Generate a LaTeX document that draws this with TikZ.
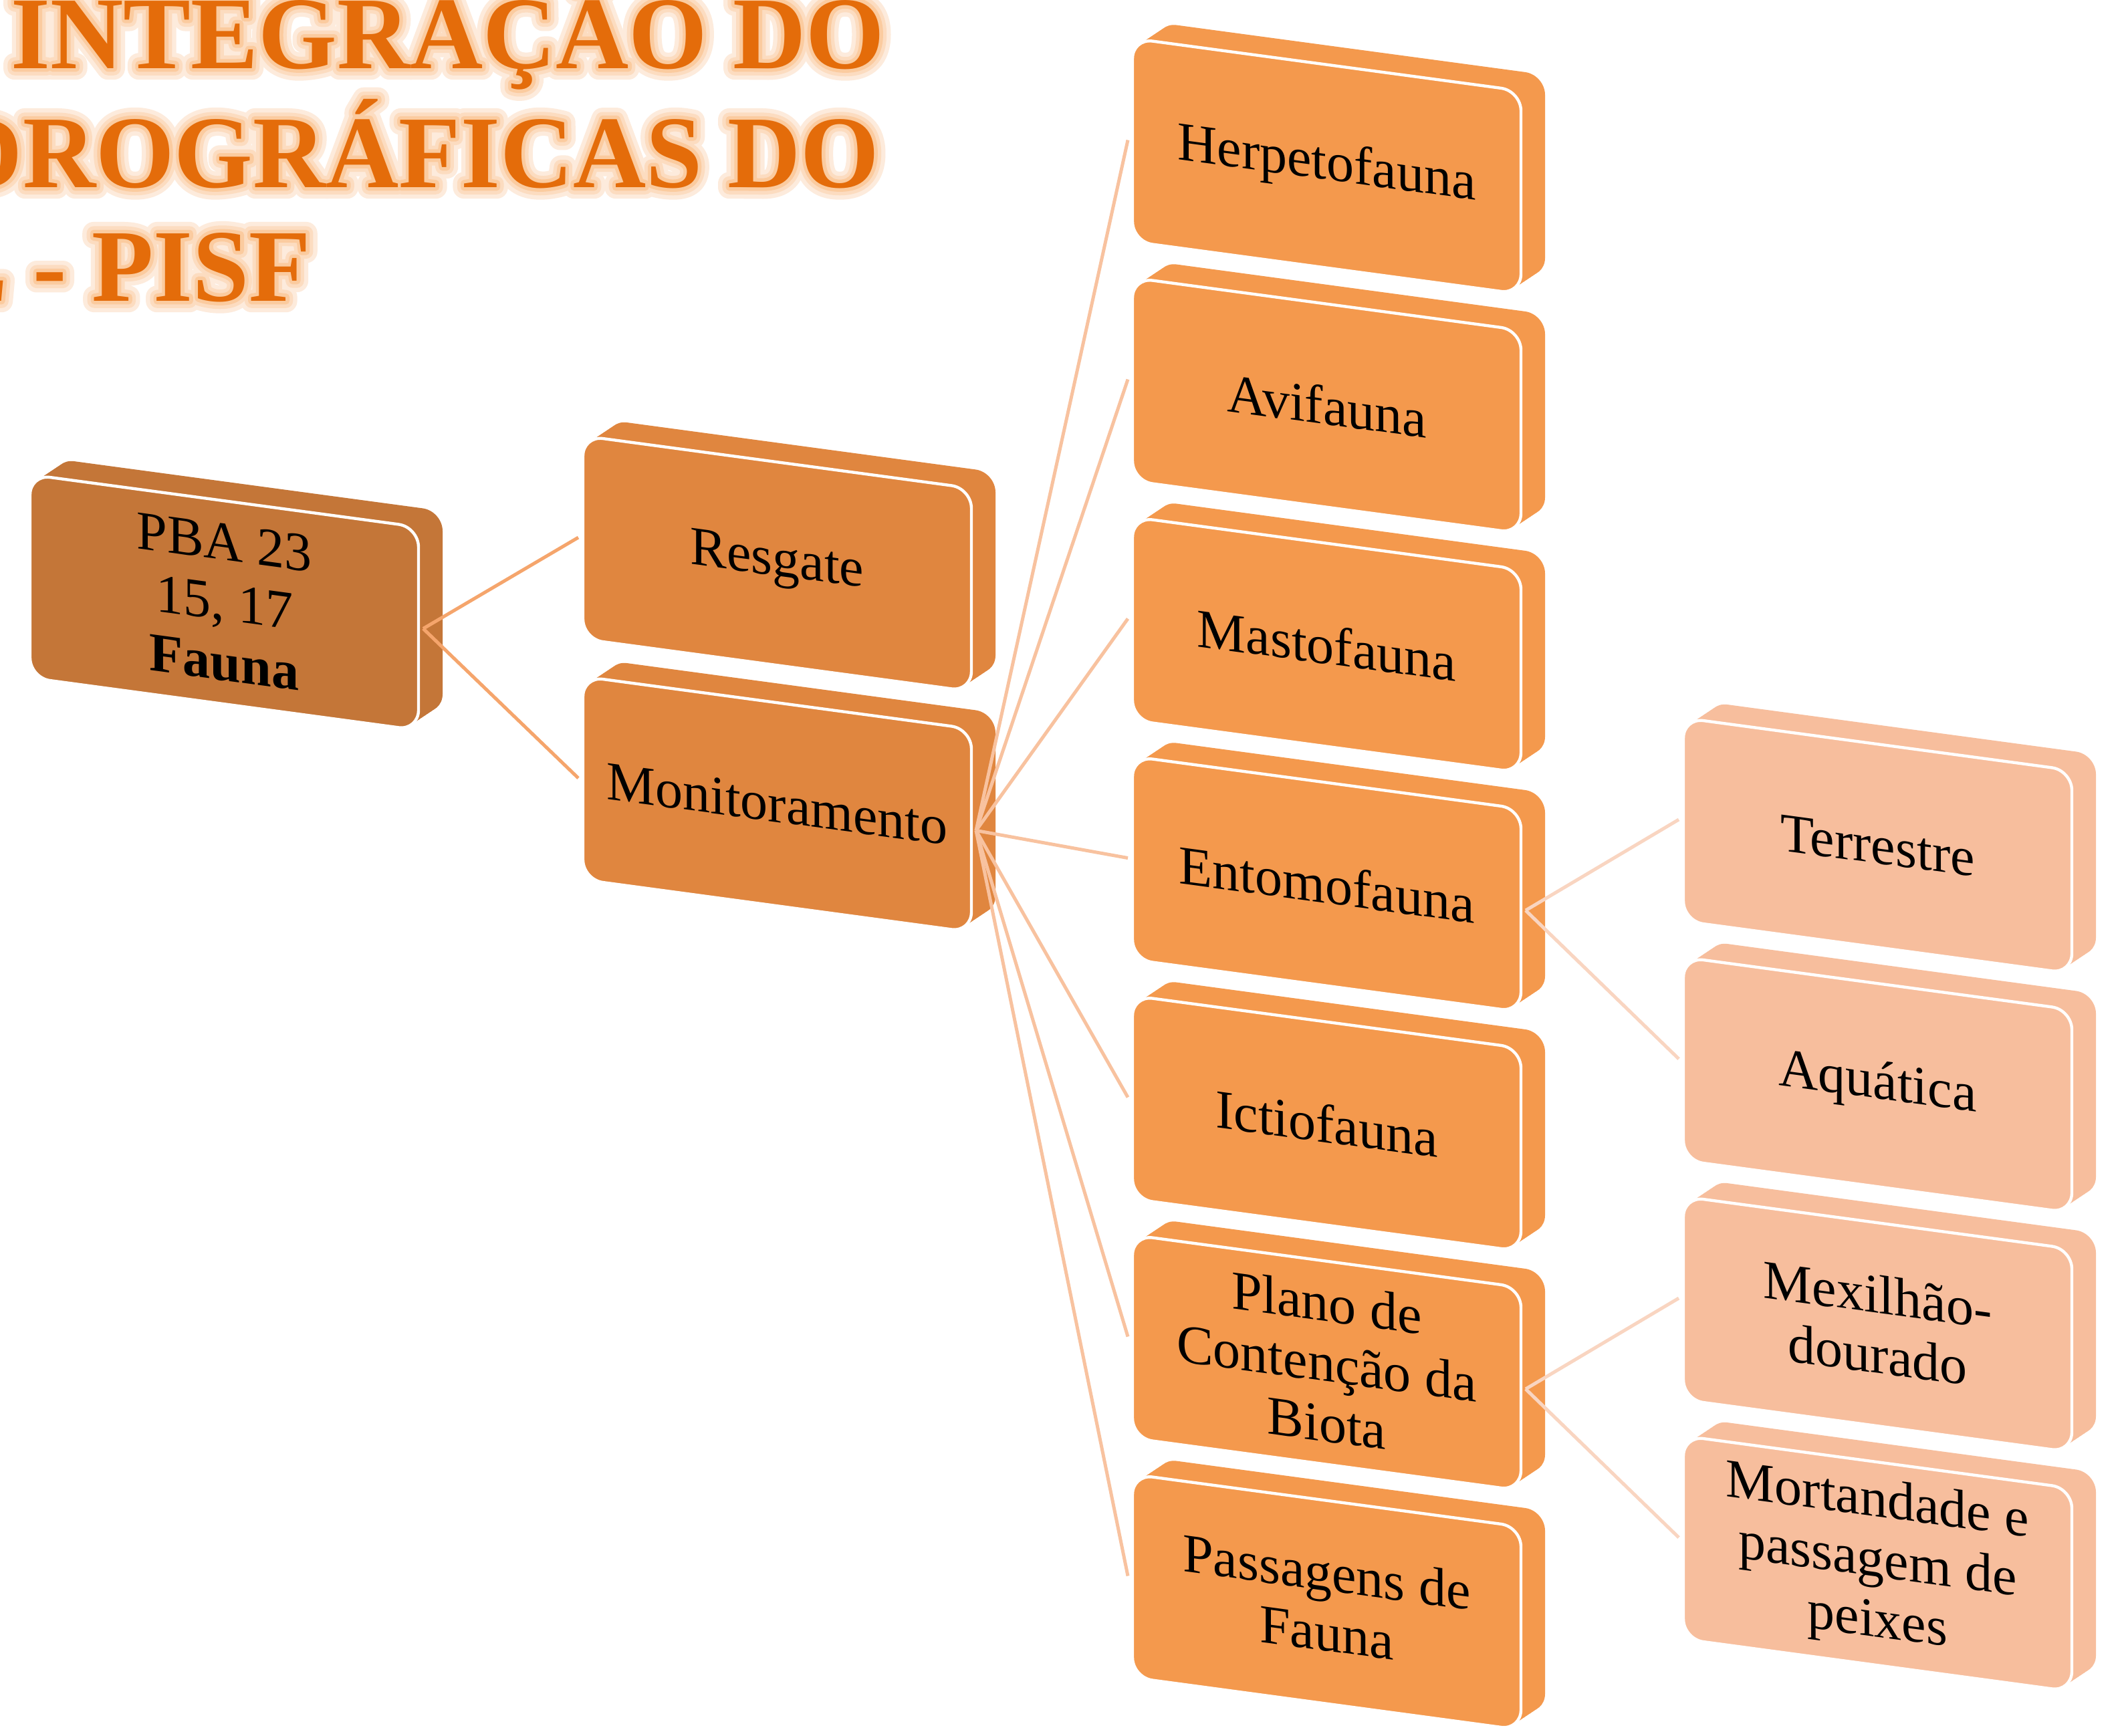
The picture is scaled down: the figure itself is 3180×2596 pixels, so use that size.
\documentclass[tikz,border=0pt]{standalone}
\usepackage{fontspec}
\setmainfont{Liberation Serif}
\usetikzlibrary{calc}
\definecolor{cA}{HTML}{C47638}
\definecolor{cB}{HTML}{E0863F}
\definecolor{cC}{HTML}{F4994D}
\definecolor{cD}{HTML}{F7BE9D}
\definecolor{lA}{HTML}{F5A56C}
\definecolor{lB}{HTML}{F8C29F}
\definecolor{lC}{HTML}{F9D5C1}
\definecolor{ttl}{HTML}{E46C0A}
\definecolor{glwA}{HTML}{FDEBDC}
\definecolor{glwB}{HTML}{FCDCC0}
\definecolor{glwC}{HTML}{FBCB9F}

% stroked (halo) text: stroke width in pt, text
\newcommand{\halotext}[2]{\special{pdf:code q 2 Tr #1 w 1 j 1 J}#2\special{pdf:code Q}}

% name, left x, top y (at left edge), fill colour, text
\newcommand{\blk}[5]{%
  \pgfmathsetmacro{\bLx}{#2}%
  \pgfmathsetmacro{\bTy}{#3}%
  \pgfmathsetmacro{\bRx}{#2+581}%
  \pgfmathsetmacro{\bRy}{#3+78.4}%
  \foreach \k in {0,...,8}{%
    \fill[#4, shift={(\k*4.5,-\k*3)}, rounded corners=7.5pt]
      (\bLx,\bTy) -- (\bRx,\bRy) -- (\bRx,\bRy+304) -- (\bLx,\bTy+304) -- cycle;
  }%
  \draw[white, line width=1.1pt, fill=#4, rounded corners=7.5pt]
      (\bLx,\bTy) -- (\bRx,\bRy) -- (\bRx,\bRy+304) -- (\bLx,\bTy+304) -- cycle;
  \node[boxtext, yslant=-0.135] (#1) at (\bLx+290.5,\bTy+191.2) {#5};
  \coordinate (#1-l) at (\bLx-7,\bTy+152);
  \coordinate (#1-r) at (\bRx+7,\bRy+152);
}

\begin{document}
\begin{tikzpicture}[x=0.25pt,y=-0.25pt,
  boxtext/.style={font=\fontsize{20.5}{22.5}\selectfont, align=center, inner sep=0pt, text=black},
  link/.style={line width=1.25pt},
  ttlfont/.style={font=\fontsize{36}{43}\selectfont\bfseries, inner sep=0pt, anchor=base east, xscale=1.05, yscale=1.07}]
\useasboundingbox (0,0) rectangle (3180,2596);
\clip (0,0) rectangle (3180,2596);
\fill[white] (0,0) rectangle (3180,2596);

% ---- title with glow ----
\node[ttlfont, text=glwA] (gA1) at (1324,102) {\halotext{8}{INTEGRAÇÃO DO}};
\node[ttlfont, text=glwA] (gA2) at (1316,280) {\halotext{8}{DROGRÁFICAS DO}};
\node[ttlfont, text=glwA] (gA3) at (466,450) {\halotext{8}{L - PISF}};
\node[ttlfont, text=glwB] (gB1) at (1324,102) {\halotext{5}{INTEGRAÇÃO DO}};
\node[ttlfont, text=glwB] (gB2) at (1316,280) {\halotext{5}{DROGRÁFICAS DO}};
\node[ttlfont, text=glwB] (gB3) at (466,450) {\halotext{5}{L - PISF}};
\node[ttlfont, text=glwC] (gC1) at (1324,102) {\halotext{2.5}{INTEGRAÇÃO DO}};
\node[ttlfont, text=glwC] (gC2) at (1316,280) {\halotext{2.5}{DROGRÁFICAS DO}};
\node[ttlfont, text=glwC] (gC3) at (466,450) {\halotext{2.5}{L - PISF}};
\node[ttlfont, text=ttl] (t1) at (1324,102) {INTEGRAÇÃO DO};
\node[ttlfont, text=ttl] (t2) at (1316,280) {DROGRÁFICAS DO};
\node[ttlfont, text=ttl] (t3) at (466,450) {L - PISF};

% ---- boxes ----
\blk{pba}{45}{710}{cA}{PBA 23\\15, 17\\\textbf{Fauna}}
\blk{res}{872}{652}{cB}{Resgate}
\blk{mon}{872}{1012}{cB}{Monitoramento}

\blk{her}{1694}{57.5}{cC}{Herpetofauna}
\blk{avi}{1694}{415.5}{cC}{Avifauna}
\blk{mas}{1694}{773.5}{cC}{Mastofauna}
\blk{ent}{1694}{1131.5}{cC}{Entomofauna}
\blk{ict}{1694}{1489.5}{cC}{Ictiofauna}
\blk{pla}{1694}{1847.5}{cC}{Plano de\\Contenção da\\Biota}
\blk{pas}{1694}{2205.5}{cC}{Passagens de\\Fauna}

\blk{ter}{2518}{1074}{cD}{Terrestre}
\blk{aqu}{2518}{1432}{cD}{Aquática}
\blk{mex}{2518}{1790}{cD}{Mexilhão-\\dourado}
\blk{mor}{2518}{2148}{cD}{Mortandade e\\passagem de\\peixes}

% ---- connectors ----
\draw[link, lA] (pba-r) -- (res-l);
\draw[link, lA] (pba-r) -- (mon-l);
\foreach \n in {her,avi,mas,ent,ict,pla,pas}
  \draw[link, lB] (mon-r) -- (\n-l);
\draw[link, lC] (ent-r) -- (ter-l);
\draw[link, lC] (ent-r) -- (aqu-l);
\draw[link, lC] (pla-r) -- (mex-l);
\draw[link, lC] (pla-r) -- (mor-l);
\end{tikzpicture}
\end{document}
